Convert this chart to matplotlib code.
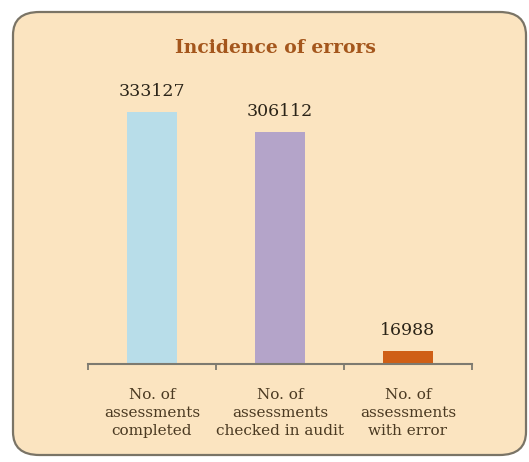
import matplotlib.pyplot as plt
from matplotlib.patches import FancyBboxPatch

# data
categories = ['No. of\nassessments\ncompleted',
              'No. of\nassessments\nchecked in audit',
              'No. of\nassessments\nwith error']
values = [333127, 306112, 16988]
bar_colors = ['#b8dde9', '#b4a4c9', '#cf5f16']

title_color = '#a4561c'
text_color = '#4b3a22'
plt.rcParams['font.family'] = ['DejaVu Serif']

fig = plt.figure(figsize=(5.29, 4.62), dpi=100)
fig.patch.set_facecolor('white')

# rounded panel
panel = FancyBboxPatch((13 / 529, 7 / 462), 513 / 529, 443 / 462,
                       boxstyle='round,pad=0,rounding_size=0.05',
                       transform=fig.transFigure, facecolor='#fbe4c0',
                       edgecolor='#7a7466', linewidth=1.6, zorder=-5)
fig.patches.append(panel)

ax = fig.add_axes([88 / 529, 98 / 462, 384 / 529, 304 / 462])
ax.set_zorder(2)
ax.set_facecolor('none')

x = range(len(values))
bars = ax.bar(x, values, width=0.39, color=bar_colors, zorder=2)
for xi, v in zip(x, values):
    ax.annotate(str(v), (xi, v), xytext=(0, 9), textcoords='offset points',
                ha='center', va='bottom', fontsize=12.5, color='#2b2418')

ax.set_xlim(-0.5, 2.5)
ax.set_ylim(0, 401900)
ax.set_yticks([])
for s in ['top', 'right', 'left']:
    ax.spines[s].set_visible(False)
ax.spines['bottom'].set_color('#7d7a70')
ax.spines['bottom'].set_linewidth(1.5)

ax.set_xticks(list(x))
ax.set_xticklabels(categories, fontsize=11, color=text_color, linespacing=1.4)
ax.tick_params(axis='x', which='major', length=0, pad=17)
ax.set_xticks([-0.5, 0.5, 1.5, 2.5], minor=True)
ax.tick_params(axis='x', which='minor', length=4, width=1.3, color='#7d7a70',
               direction='out')

fig.text(275 / 529, 1 - 48 / 462, 'Incidence of errors', ha='center',
         va='center', fontsize=13.5, fontweight='bold', color=title_color)

fig.savefig('out.png', dpi=100)
